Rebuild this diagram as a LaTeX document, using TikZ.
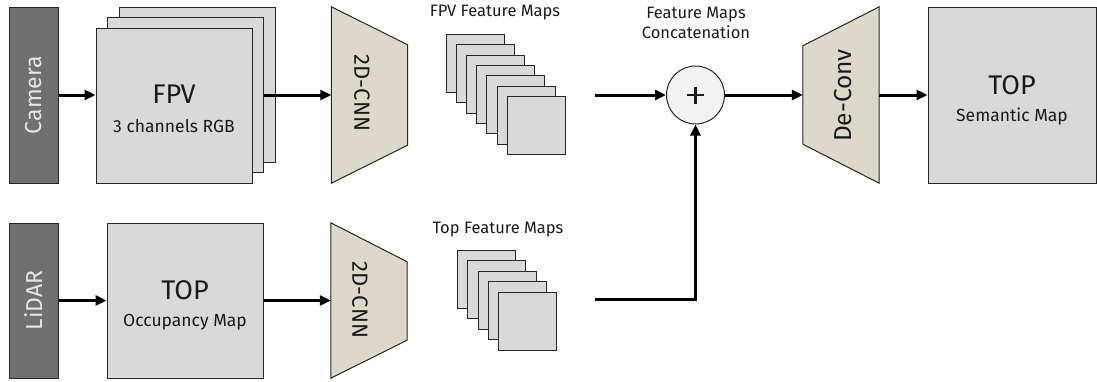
\documentclass[tikz,border=0pt]{standalone}
\usepackage{fontspec}
\setmainfont{Fira Sans}
\usetikzlibrary{arrows.meta,calc}
\definecolor{sensor}{HTML}{707070}
\definecolor{sensortext}{HTML}{E6E6E6}
\definecolor{mapfill}{HTML}{D9D9D9}
\definecolor{convfill}{HTML}{DCD9CB}
\definecolor{sumfill}{HTML}{F2F2F2}
\definecolor{edge}{HTML}{262626}
\definecolor{ink}{HTML}{1A1A1A}

\begin{document}
\begin{tikzpicture}[x=1pt,y=-1pt,
  sensorbox/.style={draw=edge, fill=sensor, line width=1pt, minimum width=49pt, inner sep=0pt},
  sensorlabel/.style={rotate=90, text=sensortext, inner sep=0pt, font=\fontsize{23}{24}\selectfont},
  mapbox/.style={draw=edge, fill=mapfill, line width=1pt, inner sep=0pt, minimum width=156pt, minimum height=155pt},
  fmap/.style={draw=edge, fill=mapfill, line width=0.9pt, minimum width=58pt, minimum height=58pt, inner sep=0pt},
  frame/.style={inner sep=0pt, minimum width=76pt},
  convshape/.style={draw=edge, fill=convfill, line width=1pt, line join=miter},
  convlabel/.style={text=ink, inner sep=0pt},
  bigtext/.style={text=ink, inner sep=0pt, font=\fontsize{27}{28}\selectfont},
  subtext/.style={text=ink, inner sep=0pt, font=\fontsize{17.5}{19}\selectfont},
  caption/.style={text=ink, inner sep=0pt, align=center, font=\fontsize{16.5}{20}\selectfont},
  flow/.style={line width=3pt, -{Triangle[length=11pt,width=10pt]}},
]
\useasboundingbox (0,0) rectangle (1097,381);

% ---- sensors ----
\node[sensorbox, minimum height=176pt] (camera) at (33.5,95) {};
\node[sensorlabel] (cameratext) at (camera) {Camera};
\node[sensorbox, minimum height=155pt] (lidar) at (33.5,300.5) {};
\node[sensorlabel] (lidartext) at (lidar) {LiDAR};

% ---- FPV image stack (3 channels) ----
\node[mapbox] (fpvback) at (197,84.5) {};
\node[mapbox] (fpvmid) at (185.5,95) {};
\node[mapbox] (fpv) at (174,105.5) {};
\node[bigtext] (fpvtitle) at (174,94) {FPV};
\node[subtext] (fpvsub) at (174,126) {3 channels RGB};

% ---- occupancy grid ----
\node[mapbox] (occ) at (185,300.5) {};
\node[bigtext] (occtitle) at (185,290) {TOP};
\node[subtext] (occsub) at (185,322) {Occupancy Map};

% ---- encoders ----
\node[frame, minimum height=176pt] (cnn1) at (369.5,95) {};
\draw[convshape] (cnn1.north west) -- ($(cnn1.north east)+(0,38)$)
  -- ($(cnn1.south east)+(0,-38)$) -- (cnn1.south west) -- cycle;
\node[convlabel, rotate=-90, font=\fontsize{22}{24}\selectfont] (cnn1text) at (362,93) {2D-CNN};

\node[frame, minimum height=155pt] (cnn2) at (369,300.5) {};
\draw[convshape] (cnn2.north west) -- ($(cnn2.north east)+(0,39)$)
  -- ($(cnn2.south east)+(0,-38)$) -- (cnn2.south west) -- cycle;
\node[convlabel, rotate=-90, font=\fontsize{22}{24}\selectfont] (cnn2text) at (360,300) {2D-CNN};

% ---- feature maps ----
\node[caption] (fpvfmtext) at (495,13) {FPV Feature Maps};
\foreach \i in {0,...,6}
  \node[fmap] (fm\i) at ({475+10.2*\i},{63.5+10.35*\i}) {};
\node[caption] (topfmtext) at (498,230) {Top Feature Maps};
\foreach \i in {0,...,4}
  \node[fmap] (tf\i) at ({486.5+10.25*\i},{279.5+10.4*\i}) {};

% ---- fusion ----
\node[circle, draw=edge, fill=sumfill, line width=1pt, minimum size=58pt, inner sep=0pt] (plus) at (695.5,95) {};
\draw[line width=2.2pt, ink] ($(plus)+(-8.5,0)$) -- ($(plus)+(8.5,0)$)
  ($(plus)+(0,-8.5)$) -- ($(plus)+(0,8.5)$);
\node[caption] (plustext) at (696,23) {Feature Maps\\Concatenation};

% ---- decoder ----
\node[frame, minimum height=176pt] (deconv) at (841,95) {};
\draw[convshape] ($(deconv.north west)+(0,39)$) -- (deconv.north east)
  -- (deconv.south east) -- ($(deconv.south west)+(0,-39)$) -- cycle;
\node[convlabel, rotate=90, font=\fontsize{24.5}{26}\selectfont] (deconvtext) at (843,95.5) {De-Conv};

% ---- output ----
\node[draw=edge, fill=mapfill, line width=1pt, inner sep=0pt, minimum width=168pt,
      minimum height=176pt] (semantic) at (1012,95) {};
\node[bigtext] (semtitle) at (1012,85) {TOP};
\node[subtext] (semsub) at (1012,117) {Semantic Map};

% ---- connections ----
\coordinate (fpvout) at (595,95);
\coordinate (topout) at (595,299);
\draw[flow] (camera.east) -- (camera.east -| fpv.west);
\draw[flow] (camera.east -| fpvmid.east) -- (cnn1.west);
\draw[flow] (lidar.east) -- (occ.west);
\draw[flow] (occ.east) -- (cnn2.west);
\draw[flow] (fpvout) -- (plus.west);
\draw[flow] (topout) -| (plus.south);
\draw[flow] (plus.east) -- (deconv.west);
\draw[flow] (deconv.east) -- (semantic.west);
\end{tikzpicture}
\end{document}
